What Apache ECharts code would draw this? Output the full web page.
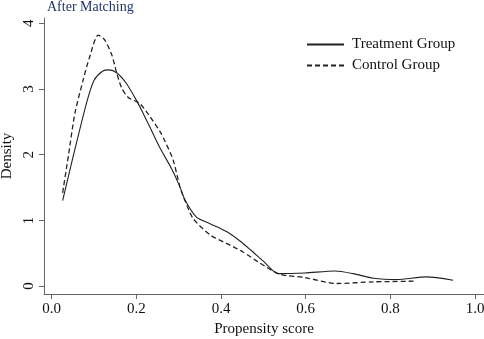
<!DOCTYPE html>
<html>
<head>
<meta charset="utf-8">
<script src="https://cdn.jsdelivr.net/npm/echarts@6/dist/echarts.min.js"></script>
<style>
  html, body { margin: 0; padding: 0; background: #fff; }
  #chart { width: 484px; height: 339px; }
</style>
</head>
<body>
<div id="chart"></div>
<script>
// 读图得到的数据 [propensity score, density]
const treatmentData = [
  [0.026, 1.30], [0.05, 1.95], [0.083, 2.80], [0.10, 3.13], [0.12, 3.27],
  [0.135, 3.29], [0.155, 3.24], [0.177, 3.08], [0.20, 2.83], [0.216, 2.63],
  [0.232, 2.42], [0.256, 2.10], [0.283, 1.79], [0.303, 1.51], [0.315, 1.31],
  [0.342, 1.05], [0.374, 0.95], [0.413, 0.83], [0.444, 0.69], [0.47, 0.55],
  [0.50, 0.38], [0.535, 0.19], [0.598, 0.20], [0.669, 0.23], [0.712, 0.19],
  [0.76, 0.12], [0.815, 0.10], [0.885, 0.14], [0.948, 0.09]
];
const controlData = [
  [0.026, 1.42], [0.04, 2.00], [0.055, 2.63], [0.075, 3.15], [0.089, 3.47],
  [0.110, 3.82], [0.125, 3.75], [0.142, 3.52], [0.153, 3.26], [0.165, 3.02],
  [0.181, 2.87], [0.208, 2.78], [0.23, 2.60], [0.256, 2.35], [0.268, 2.20],
  [0.287, 1.92], [0.303, 1.51], [0.315, 1.30], [0.334, 1.03], [0.374, 0.78],
  [0.413, 0.65], [0.452, 0.52], [0.492, 0.35], [0.539, 0.18], [0.598, 0.13],
  [0.673, 0.04], [0.76, 0.065], [0.858, 0.075]
];
const xTicks = [0, 0.2, 0.4, 0.6, 0.8, 1.0];
const yTicks = [0, 1, 2, 3, 4];
const seriesNames = ['Treatment Group', 'Control Group'];
const titleText = 'After Matching';
const xName = 'Propensity score';
const yName = 'Density';

const serif = '"Liberation Serif", "Times New Roman", serif';
const chart = echarts.init(document.getElementById('chart'));

const option = {
  animation: false,
  backgroundColor: '#fff',
  textStyle: { fontFamily: serif },
  title: {
    text: titleText,
    left: 42,
    top: -5,
    textStyle: { fontFamily: serif, fontSize: 14, fontWeight: 'normal', color: '#1f3568' }
  },
  legend: {
    orient: 'vertical',
    left: 301,
    top: 32,
    itemWidth: 37,
    itemHeight: 12,
    itemGap: 6,
    itemStyle: { color: 'transparent', borderColor: 'transparent', borderWidth: 0 },
    textStyle: { fontFamily: serif, fontSize: 15, color: '#111', padding: [0, 0, 0, 3] },
    data: seriesNames
  },
  // 轴线所在位置就是绘图区边界，刻度只画在 0..1 / 0..4
  grid: { left: 44, right: 0, top: 18, bottom: 45, outerBoundsMode: 'none' },
  xAxis: {
    type: 'value',
    min: -0.018,
    max: 1.021,
    axisLine: { show: true, onZero: false, lineStyle: { color: '#666', width: 1 } },
    axisTick: { show: true, length: 5, customValues: xTicks, lineStyle: { color: '#666' } },
    axisLabel: {
      color: '#111', fontSize: 15, fontFamily: serif, margin: 8,
      customValues: xTicks,
      formatter: v => v.toFixed(1)
    },
    splitLine: { show: false },
    name: xName,
    nameLocation: 'middle',
    nameGap: 28,
    nameTextStyle: { fontFamily: serif, fontSize: 15, color: '#111' }
  },
  yAxis: {
    type: 'value',
    min: -0.12,
    max: 4.08,
    axisLine: { show: true, onZero: false, lineStyle: { color: '#666', width: 1 } },
    axisTick: { show: true, length: 5, customValues: yTicks, lineStyle: { color: '#666' } },
    axisLabel: {
      color: '#111', fontSize: 15, fontFamily: serif, rotate: 90, margin: 7,
      customValues: yTicks
    },
    splitLine: { show: false },
    name: yName,
    nameLocation: 'middle',
    nameGap: 28,
    nameRotate: 90,
    nameTextStyle: { fontFamily: serif, fontSize: 15, color: '#111' }
  },
  series: [
    {
      name: seriesNames[0],
      type: 'line',
      data: treatmentData,
      smooth: 0.25,
      symbol: 'none',
      lineStyle: { color: '#222', width: 1.1, type: 'solid' },
      itemStyle: { color: '#222' }
    },
    {
      name: seriesNames[1],
      type: 'line',
      data: controlData,
      smooth: 0.25,
      symbol: 'none',
      lineStyle: { color: '#222', width: 1.3, type: [5, 3] },
      itemStyle: { color: '#222' }
    }
  ]
};

chart.setOption(option);
</script>
</body>
</html>
